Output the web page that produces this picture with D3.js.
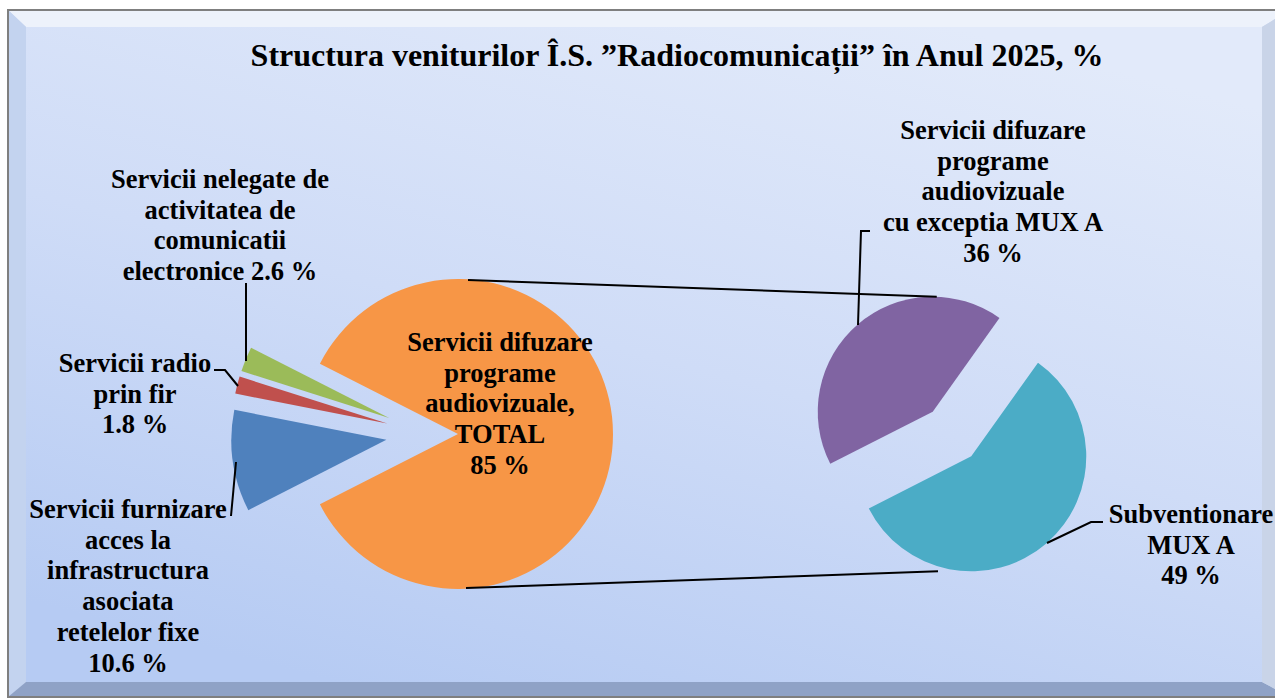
<!DOCTYPE html>
<html>
<head>
<meta charset="utf-8">
<script src="https://cdn.jsdelivr.net/npm/d3@7"></script>
<style>
  body { margin: 0; background: #ffffff; }
  svg { display: block; }
  text { font-family: "Liberation Serif", "Times New Roman", serif; font-weight: bold; fill: #000; }
</style>
</head>
<body>
<svg></svg>
<script>
// main pie (percent of total revenue), clockwise from the TOTAL slice
var mainNames  = ["Servicii difuzare programe audiovizuale, TOTAL",
                  "Servicii furnizare acces la infrastructura asociata retelelor fixe",
                  "Servicii radio prin fir",
                  "Servicii nelegate de activitatea de comunicatii electronice"]
var mainValues = [85, 10.6, 1.8, 2.6]
var mainColors = ["#f79646", "#4f81bd", "#c0504d", "#9bbb59"]

// secondary pie, split of the TOTAL slice
var subNames  = ["Servicii difuzare programe audiovizuale cu exceptia MUX A",
                 "Subventionare MUX A"]
var subValues = [36, 49]
var subColors = ["#8064a2", "#4bacc6"]

var title = "Structura veniturilor Î.S. ”Radiocomunicații” în Anul 2025, %"

// label lines, same order as the values
var mainLabelLines = [
    ["Servicii difuzare", "programe", "audiovizuale,", "TOTAL", "85 %"],
    ["Servicii furnizare", "acces la", "infrastructura", "asociata", "retelelor fixe", "10.6 %"],
    ["Servicii radio", "prin fir", "1.8 %"],
    ["Servicii nelegate de", "activitatea de", "comunicatii", "electronice 2.6 %"]
]
var subLabelLines = [
    ["Servicii difuzare", "programe", "audiovizuale", "cu exceptia MUX A", "36 %"],
    ["Subventionare", "MUX A", "49 %"]
]

var screen = {width: 1275, height: 700}
var svg = d3.select("svg")
    .attr("width", screen.width)
    .attr("height", screen.height)

// ---- frame ----
var defs = svg.append("defs")
var grad = defs.append("linearGradient").attr("id", "panel")
    .attr("x1", "0.75").attr("y1", "0").attr("x2", "0.25").attr("y2", "1")
grad.append("stop").attr("offset", "0").attr("stop-color", "#e2eafa")
grad.append("stop").attr("offset", "0.5").attr("stop-color", "#cfdcf7")
grad.append("stop").attr("offset", "1").attr("stop-color", "#b6cbf3")

var o = {x0: 8, y0: 10, x1: 1290, y1: 697}
var inn = {x0: 26, y0: 27, x1: 1262, y1: 682}

svg.append("rect").attr("x", o.x0).attr("y", o.y0)
    .attr("width", o.x1 - o.x0).attr("height", o.y1 - o.y0)
    .attr("fill", "#c8d6f0")

var bevel = [
    {pts: [[o.x0, o.y0], [o.x1, o.y0], [inn.x1, inn.y0], [inn.x0, inn.y0]], c: "#edf2fb"},
    {pts: [[o.x0, o.y0], [inn.x0, inn.y0], [inn.x0, inn.y1], [o.x0, o.y1]], c: "#c3d3ef"},
    {pts: [[o.x0, o.y1], [inn.x0, inn.y1], [inn.x1, inn.y1], [o.x1, o.y1]], c: "#8fa2c6"},
    {pts: [[o.x1, o.y0], [inn.x1, inn.y0], [inn.x1, inn.y1], [o.x1, o.y1]], c: "#c9d4e8"}
]
svg.selectAll("polygon.bevel").data(bevel).enter().append("polygon")
    .attr("class", "bevel")
    .attr("points", function(b){ return b.pts.map(function(p){ return p.join(",") }).join(" ") })
    .attr("fill", function(b){ return b.c })

svg.append("rect").attr("x", inn.x0).attr("y", inn.y0)
    .attr("width", inn.x1 - inn.x0).attr("height", inn.y1 - inn.y0)
    .attr("fill", "url(#panel)")

svg.append("rect").attr("x", o.x0).attr("y", o.y0)
    .attr("width", o.x1 - o.x0).attr("height", o.y1 - o.y0)
    .attr("fill", "none").attr("stroke", "#7f7f7f").attr("stroke-width", 2)

// ---- title ----
svg.append("text").attr("x", 677).attr("y", 66)
    .attr("text-anchor", "middle").style("font-size", "32px")
    .text(title)

// ---- main pie ----
var deg = Math.PI / 180
var main = {cx: 428, cy: 434, r: 155}
var mainShare = mainValues[0] / d3.sum(mainValues)
var mainStart = Math.PI / 2 - mainShare * Math.PI   // first slice centred to the right
var mainPie = d3.pie().sort(null).value(function(d){ return d })
    .startAngle(mainStart).endAngle(mainStart + 2 * Math.PI)
var mainArcs = mainPie(mainValues)
var mainExplode = [30, 42, 42, 42]
var arc1 = d3.arc().innerRadius(0).outerRadius(main.r)

var offset = function(a, d) {
    var m = (a.startAngle + a.endAngle) / 2
    return [d * Math.sin(m), -d * Math.cos(m)]
}

svg.append("g").attr("transform", "translate(" + main.cx + "," + main.cy + ")")
    .selectAll("path").data(mainArcs).enter().append("path")
    .attr("transform", function(a, i){ return "translate(" + offset(a, mainExplode[i]) + ")" })
    .attr("d", arc1)
    .attr("fill", function(a, i){ return mainColors[i] })

// ---- secondary pie ----
var sub = {cx: 952, cy: 434, r: 115}
var subStart = -117 * deg
var subPie = d3.pie().sort(null).value(function(d){ return d })
    .startAngle(subStart).endAngle(subStart + 2 * Math.PI)
var subArcs = subPie(subValues)
var subExplode = 29.5
var arc2 = d3.arc().innerRadius(0).outerRadius(sub.r)

svg.append("g").attr("transform", "translate(" + sub.cx + "," + sub.cy + ")")
    .selectAll("path").data(subArcs).enter().append("path")
    .attr("transform", function(a){ return "translate(" + offset(a, subExplode) + ")" })
    .attr("d", arc2)
    .attr("fill", function(a, i){ return subColors[i] })

// connector lines between the TOTAL slice and the secondary pie
var pTop = offset(subArcs[0], subExplode)
var pBot = offset(subArcs[1], subExplode)
var connectors = [
    [[main.cx + 40, main.cy - main.r + 1], [sub.cx + pTop[0] + 4, sub.cy + pTop[1] - sub.r]],
    [[main.cx + 38, main.cy + main.r - 1], [sub.cx - 14, sub.cy + pBot[1] + sub.r]]
]
svg.selectAll("line.conn").data(connectors).enter().append("line")
    .attr("class", "conn")
    .attr("x1", function(c){ return c[0][0] }).attr("y1", function(c){ return c[0][1] })
    .attr("x2", function(c){ return c[1][0] }).attr("y2", function(c){ return c[1][1] })
    .attr("stroke", "#000").attr("stroke-width", 2)

// ---- leader lines ----
var leaders = [
    [[246, 283], [246, 361]],
    [[214, 370], [225, 370], [238, 386]],
    [[236, 462], [231, 516]],
    [[870, 231], [861, 231], [858, 325]],
    [[1103, 522], [1091, 522], [1047, 543]]
]
svg.selectAll("path.leader").data(leaders).enter().append("path")
    .attr("class", "leader")
    .attr("d", d3.line())
    .attr("fill", "none").attr("stroke", "#000").attr("stroke-width", 2)

// ---- labels ----
var labelPos = [
    {lines: mainLabelLines[0], x: 500, y: 351},
    {lines: mainLabelLines[1], x: 128, y: 518},
    {lines: mainLabelLines[2], x: 135, y: 372},
    {lines: mainLabelLines[3], x: 220, y: 188},
    {lines: subLabelLines[0], x: 993, y: 139},
    {lines: subLabelLines[1], x: 1191, y: 523}
]
var lineH = 30.7
var labels = svg.selectAll("text.lbl").data(labelPos).enter().append("text")
    .attr("class", "lbl")
    .attr("text-anchor", "middle")
    .style("font-size", "26.5px")
labels.selectAll("tspan").data(function(d){ return d.lines.map(function(t, i){ return {t: t, x: d.x, y: d.y + i * lineH} }) })
    .enter().append("tspan")
    .attr("x", function(d){ return d.x })
    .attr("y", function(d){ return d.y })
    .text(function(d){ return d.t })
</script>
</body>
</html>
